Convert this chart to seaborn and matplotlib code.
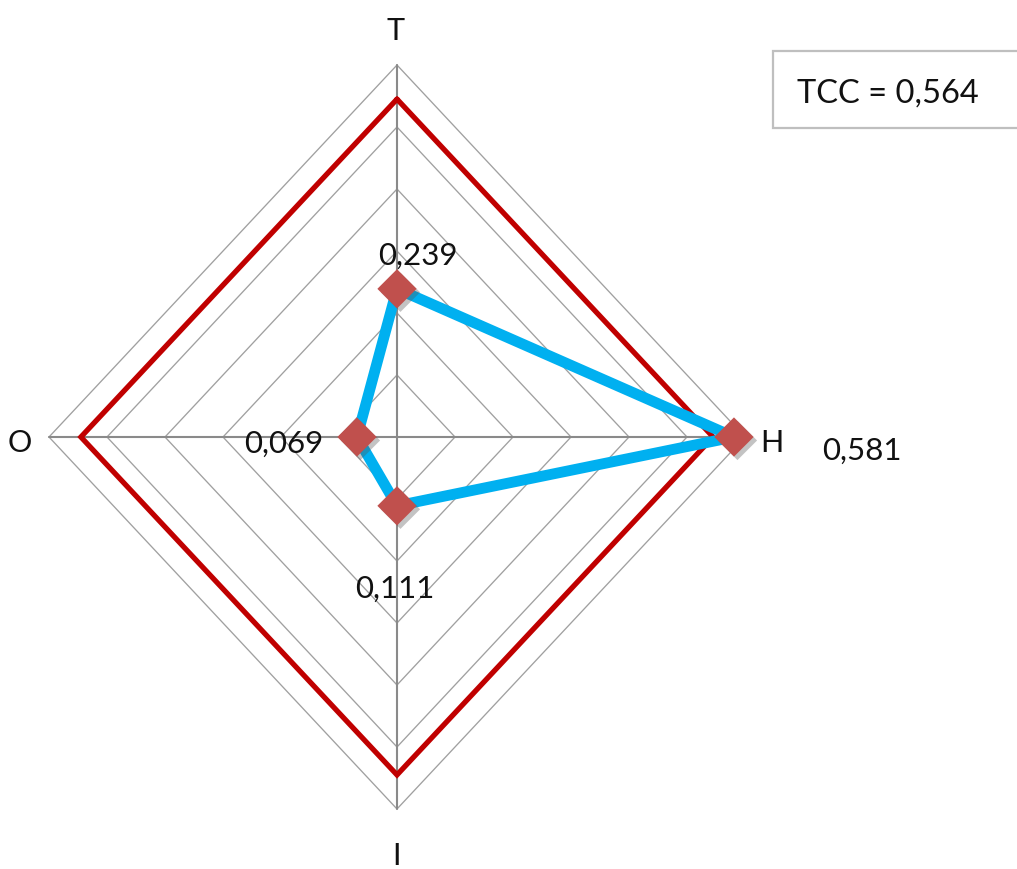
import numpy as np
import pandas as pd
import matplotlib
matplotlib.use("Agg")
import matplotlib.pyplot as plt
import matplotlib.patheffects as pe
from matplotlib.patches import Rectangle
import seaborn as sns

# --- data -------------------------------------------------------------
dimensions = ["T", "H", "I", "O"]            # clockwise from the top
scores = [0.239, 0.581, 0.111, 0.069]
score_labels = ["0,239", "0,581", "0,111", "0,069"]
threshold = [0.545, 0.545, 0.545, 0.545]
ring_levels = [0.1, 0.2, 0.3, 0.4, 0.5, 0.6]
tcc_text = "TCC = 0,564"

# --- styling ----------------------------------------------------------
sns.set_style("white")
plt.rcParams["font.family"] = ["Lato", "DejaVu Sans"]

BLUE = "#00b0f0"
RED = "#c00000"
MARK = "#c0504d"
GRID = "#a0a0a0"
SPOKE = "#8a8a8a"
INK = "#111111"

W, H = 1017, 870
fig = plt.figure(figsize=(W / 100, H / 100), dpi=100)
ax = fig.add_axes([0, 0, 1, 1])
ax.set_xlim(-0.6845, 1.069)
ax.set_ylim(-0.6968, 0.7065)
ax.set_axis_off()

angles = np.deg2rad([90, 0, -90, 180])


def to_xy(values):
    r = np.asarray(values, dtype=float)
    return r * np.cos(angles), r * np.sin(angles)


def closed(values):
    x, y = to_xy(values)
    return pd.DataFrame({"x": np.append(x, x[0]), "y": np.append(y, y[0])})


# grid rings (diamonds) and spokes
rmax = max(ring_levels)
for lev in ring_levels:
    d = closed([lev] * 4)
    ax.plot(d["x"], d["y"], color=GRID, lw=0.95, zorder=1)
for a in angles:
    ax.plot([0, rmax * np.cos(a)], [0, rmax * np.sin(a)], color=SPOKE,
            lw=1.5, zorder=1.5)

# threshold polygon
red = closed(threshold)
sns.lineplot(data=red, x="x", y="y", sort=False, estimator=None, ax=ax,
             color=RED, lw=3.8, zorder=2)
ax.lines[-1].set_solid_joinstyle("miter")

# score polygon
blue = closed(scores)
sns.lineplot(data=blue, x="x", y="y", sort=False, estimator=None, ax=ax,
             color=BLUE, lw=7.8, zorder=3)
ax.lines[-1].set_solid_joinstyle("round")

# markers
sx, sy = to_xy(scores)
sns.scatterplot(x=sx, y=sy, marker="D", s=20 ** 2, color=MARK,
                linewidth=0, ax=ax, zorder=4)
ax.collections[-1].set_path_effects([
    pe.SimplePatchShadow(offset=(2.5, -2.5), shadow_rgbFace="#555555", alpha=0.35),
    pe.Normal()])

# value labels (offsets in pixels, y up)
label_offsets = [(21, 25), (128, -22), (-2, -91), (-73, -15)]
for x, y, txt, off in zip(sx, sy, score_labels, label_offsets):
    ax.annotate(txt, xy=(x, y), xytext=off, textcoords="offset pixels",
                ha="center", va="baseline", fontsize=22.5, color=INK,
                zorder=5)

# category labels around the outer ring
ox, oy = to_xy([rmax] * 4)
cat_offsets = [(-1, 26), (27, -14), (0, -55), (-29, -14)]
for x, y, txt, off in zip(ox, oy, dimensions, cat_offsets):
    ax.annotate(txt, xy=(x, y), xytext=off, textcoords="offset pixels",
                ha="center", va="baseline", fontsize=22, color=INK)

# TCC text box
fig.add_artist(Rectangle((773 / W, 1 - 129 / H), (1040 - 773) / W, 77 / H,
                         transform=fig.transFigure, facecolor="white",
                         edgecolor="#bfbfbf", lw=1.6))
fig.text(797 / W, 1 - 103 / H, tcc_text, ha="left", va="baseline",
         fontsize=23.5, color=INK)

fig.savefig("out.png", dpi=100)
